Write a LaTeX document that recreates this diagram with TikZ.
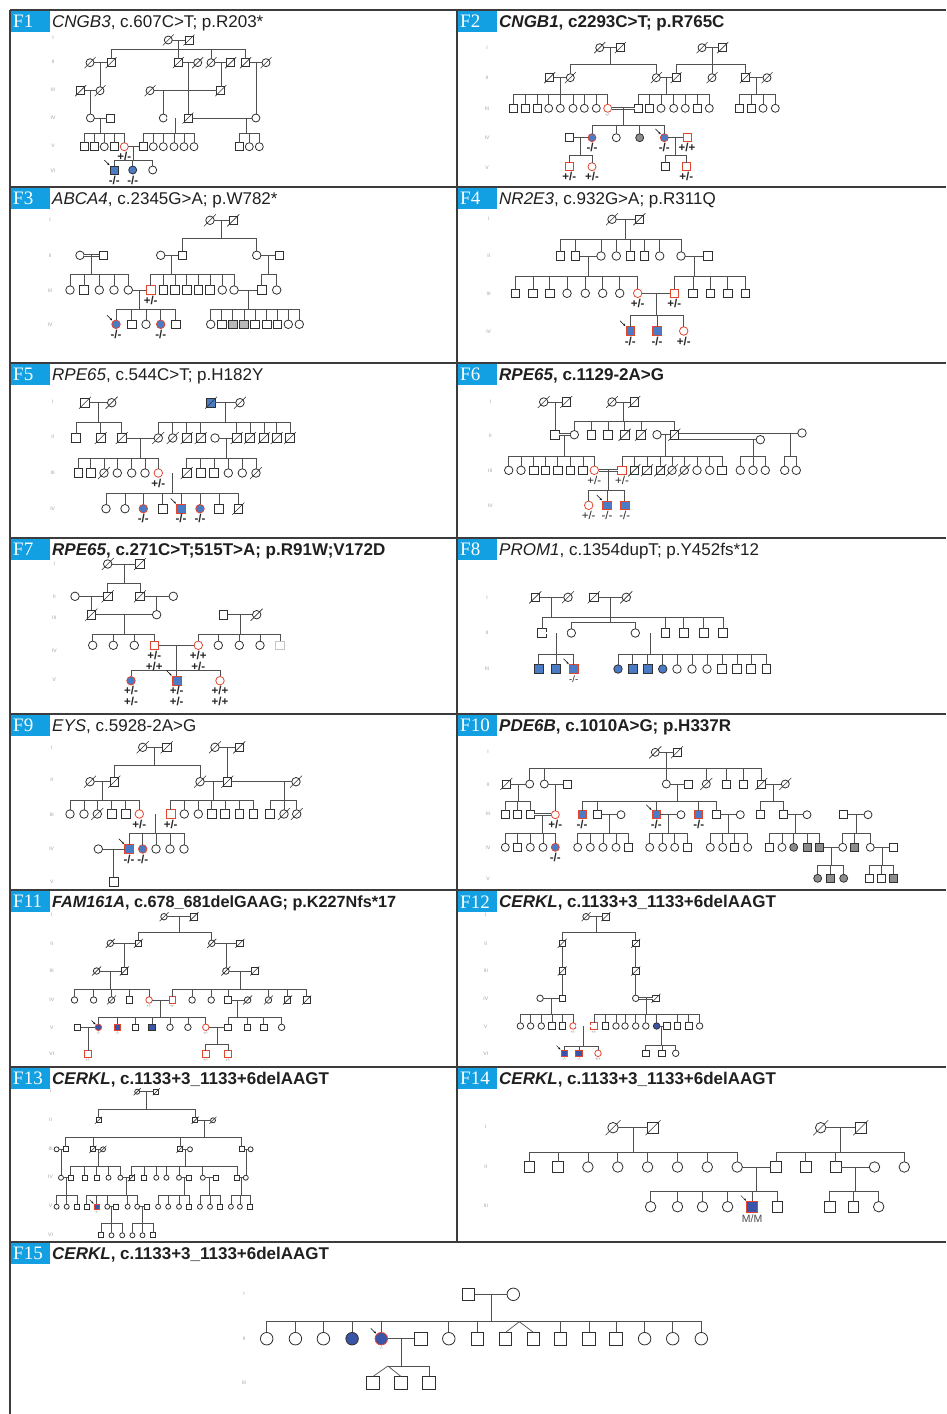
\documentclass[tikz,border=0pt]{standalone}
\usepackage{fontspec}
\setmainfont{Liberation Sans}
\newfontfamily\serifF{Liberation Serif}
\usetikzlibrary{calc,arrows.meta}
\definecolor{lc}{HTML}{505050}
\definecolor{sc}{HTML}{303030}
\definecolor{rc}{HTML}{E2462F}
\definecolor{bl}{HTML}{4A7BC4}
\definecolor{bltwo}{HTML}{3A55A8}
\definecolor{gf}{HTML}{8C8C8C}
\definecolor{gftwo}{HTML}{B8B8B8}
\definecolor{cy}{HTML}{12A0E2}
\definecolor{fr}{HTML}{3C3C3C}
\def\sz{8}\def\dl{5.5}
\tikzset{
 x=1pt,y=-1pt,
 ped/.style={draw=lc,line width=0.7pt},
 dbl/.style={draw=lc,double=white,double distance=1.3pt,line width=0.6pt},
 frame/.style={draw=fr,line width=1.5pt},
 sym/.style={draw=sc,line width=0.8pt,fill=white,inner sep=0pt,outer sep=0pt,minimum size=\sz pt},
 slash/.style={draw=sc,line width=0.6pt},
 dec/.style={append after command={([shift={(-\dl,\dl)}]\tikzlastnode.center) edge[slash] ([shift={(\dl,-\dl)}]\tikzlastnode.center)}},
 M/.style={sym,rectangle}, F/.style={sym,circle},
 MD/.style={M,dec}, FD/.style={F,dec},
 MR/.style={M,draw=rc}, FR/.style={F,draw=rc},
 MA/.style={M,fill=bl}, FA/.style={F,fill=bl},
 MAR/.style={M,fill=bl,draw=rc}, FAR/.style={F,fill=bl,draw=rc},
 MG/.style={M,fill=gf}, FG/.style={F,fill=gf},
 MGL/.style={M,fill=gftwo},
 ML/.style={M,draw=gray!45},
 MAD/.style={M,fill=bl,dec},
 gt/.style={font=\bfseries\fontsize{11.5}{10.5}\selectfont,inner sep=0pt,align=center,text=black!85},
 gtr/.style={font=\fontsize{11.5}{10.5}\selectfont,inner sep=0pt,align=center,text=black!85},
 gts/.style={font=\fontsize{4}{4}\selectfont,inner sep=0pt,text=gray},
 gen/.style={font=\fontsize{5}{5}\selectfont,inner sep=0pt,text=gray!75},
 lbox/.style={anchor=north west,fill=cy,text=white,font=\serifF\fontsize{19}{19}\selectfont,minimum height=21pt,text width=34pt,inner xsep=2.5pt,inner ysep=0pt,align=left},
 ttl/.style={font=\fontsize{17}{17}\selectfont,inner sep=0pt,text=black!88},
 parr/.style={draw=black,line width=0.5pt,-{Stealth[length=2.5pt,width=2pt]}},
}
\newcommand\pRow[2]{\foreach \vn/\vx/\vs in {#2}{\node[\vs] (\vn) at (\vx,#1) {};}}
\newcommand\pJ[3]{\coordinate (#1) at (#2,#3);}
\newcommand\pMt[3]{\draw[ped] (#1) -- (#2); \coordinate (#3) at ($(#1)!0.5!(#2)$);}
\newcommand\pMc[3]{\draw[dbl] (#1) -- (#2); \coordinate (#3) at ($(#1)!0.5!(#2)$);}
\newcommand\pSib[3]{\draw[ped] (#1) -- (#1 |- 0,#2); \foreach \vc in {#3}{\draw[ped] (\vc.north) |- (#1 |- 0,#2);}}
\newcommand\pDn[2]{\draw[ped] (#1) -- (#1 |- #2.north);}
\newcommand\pPb[1]{\draw[parr] ([shift={(-6,-6)}]#1.north west) -- ([shift={(-0.8,-0.8)}]#1.north west);}
\newcommand\pPbs[1]{\draw[parr] ([shift={(-4.5,-4.5)}]#1.north west) -- ([shift={(-0.5,-0.5)}]#1.north west);}
\newcommand\pG[2]{\node[gt,anchor=north] (#1gt) at ([yshift=-1.5pt]#1.south) {#2};}
\newcommand\pGr[2]{\node[gtr,anchor=north] (#1gt) at ([yshift=-1.5pt]#1.south) {#2};}
\newcommand\pGs[2]{\node[gts,anchor=north] (#1gt) at ([yshift=-1pt]#1.south) {#2};}
\newcommand\pTitle[5]{\node[lbox] (#1lb) at (#2+0.5,#3+1) {#4}; \node[ttl,anchor=base west] (#1tt) at (#2+42,#3+17.5) {#5};}
\newcommand\pGens[3]{\foreach \vt/\vy [count=\vk] in {#3}{\node[gen] (#1gen\vk) at (#2,\vy) {\vt};}}
\begin{document}
\begin{tikzpicture}
\useasboundingbox (0,0) rectangle (946,1414);
\fill[white] (0,0) rectangle (946,1414);
% frames
\draw[frame] (10,10) -- (946,10);
\foreach \vy in {187,363,538,714,890,1067,1242} \draw[frame] (10,\vy) -- (946,\vy);
\draw[frame] (10,10) -- (10,1414);
\draw[frame] (457,10) -- (457,1242);

% ================= F1
\def\sz{8}\def\dl{5.5}
\pTitle{a}{10}{10}{F1}{\textit{CNGB3}, c.607C>T; p.R203*}
\pGens{a}{53}{I/38,II/62,III/90,IV/118,V/146,VI/171}
\pRow{40}{a1/168.3/FD, a2/189/MD}
\pRow{62.7}{a3/90/FD, a4/111/MD, a5/178.3/MD, a6/197.7/FD, a7/211/FD, a8/230.7/MD, a9/245.7/MD, a10/266/FD}
\pRow{90.7}{a11/80.7/MD, a12/100/FD, a13/150/FD, a14/220.8/MD}
\pRow{118}{a15/90.4/F, a16/110.7/M, a17/163.3/F, a18/188/MD, a19/255.9/F}
\pRow{146.7}{a20/84/M, a21/94.3/M, a22/104.3/F, a23/114.3/M, a24/124.3/FR, a25/143.3/M, a26/153.3/F, a27/163.3/F, a28/174/F, a29/184/F, a30/194/F, a31/239.3/M, a32/249.3/F, a33/259.3/F}
\pRow{170}{a34/114.3/MA, a35/132.7/FA, a36/152.7/F}
\pMt{a1}{a2}{aj1} \pSib{aj1}{49}{a4,a5,a7,a9}
\pMt{a3}{a4}{aj2} \pDn{aj2}{a12}
\pMt{a5}{a6}{aj3} \pDn{aj3}{a18}
\pMt{a7}{a8}{aj4} \pDn{aj4}{a14}
\pMt{a9}{a10}{aj5} \pDn{aj5}{a19}
\pMt{a11}{a12}{aj6} \pDn{aj6}{a15}
\draw[ped] (a13) -- (a14); \pJ{aj7}{163.3}{90.7} \pDn{aj7}{a17}
\pMt{a15}{a16}{aj8} \pSib{aj8}{133.3}{a20,a21,a22,a23,a24}
\pMc{a17}{a18}{aj9} \pSib{aj9}{133.3}{a25,a26,a27,a28,a29,a30}
\draw[ped] (a18) -- (a19); \pJ{aj10}{246}{118} \pSib{aj10}{133.3}{a31,a32,a33}
\pMt{a24}{a25}{aj11} \pSib{aj11}{160}{a34,a35,a36}
\pG{a24}{+/-} \pG{a34}{-/-} \pG{a35}{-/-} \pPb{a34}

% ================= F2
\pTitle{b}{457}{10}{F2}{\textbf{\textit{CNGB1}, c2293C>T; p.R765C}}
\pGens{b}{487}{I/47.7,II/77.7,III/108.3,IV/137.7,V/167.3}
\pRow{47.7}{b1/599.7/FD, b2/620.3/MD, b3/702/FD, b4/722.7/MD}
\pRow{77.7}{b5/549.7/MD, b6/570.3/FD, b7/656.3/FD, b8/676/MD, b9/712/FD, b10/745.3/MD, b11/767/FD}
\pRow{108.3}{b12/513/M, b13/525.3/M, b14/537/M, b15/548.7/F, b16/560.3/F, b17/573/F, b18/584.3/F, b19/596.3/F, b20/607.7/FR, b21/638.7/M, b22/649.7/M, b23/661/F, b24/673.7/F, b25/685.3/F, b26/697/M, b27/709.3/F, b28/739.7/M, b29/751/M, b30/763/F, b31/775.3/F}
\pRow{137.7}{b32/569.3/M, b33/592/FAR, b34/616.3/F, b35/639.7/FG, b36/664.3/FAR, b37/687/MR}
\pRow{166.7}{b38/569.3/MR, b39/592/FR, b40/665.3/M, b41/686.3/MR}
\pMt{b1}{b2}{bj1} \pSib{bj1}{64.3}{b6,b7}
\pMt{b3}{b4}{bj2} \pSib{bj2}{64.3}{b8,b9,b10}
\pMt{b5}{b6}{bj3} \pSib{bj3}{94.3}{b12,b13,b14,b15,b16,b17,b18,b19,b20}
\pMt{b7}{b8}{bj4} \pSib{bj4}{94.3}{b21,b22,b23,b24,b25,b26,b27}
\pMt{b10}{b11}{bj5} \pSib{bj5}{94.3}{b28,b29,b30,b31}
\pMc{b20}{b21}{bj6} \pSib{bj6}{125}{b33,b34,b35,b36}
\pMt{b32}{b33}{bj7} \pSib{bj7}{155}{b38,b39}
\pMt{b36}{b37}{bj8} \pSib{bj8}{155}{b40,b41}
\pGs{b20}{+/-} \pG{b33}{-/-} \pG{b36}{-/-} \pG{b37}{+/+} \pG{b38}{+/-} \pG{b39}{+/-} \pG{b41}{+/-} \pPb{b36}

% ================= F3
\def\sz{8.5}\def\dl{6}
\pTitle{c}{10}{187}{F3}{\textit{ABCA4}, c.2345G>A; p.W782*}
\pGens{c}{50}{I/219.3,II/256,III/290.3,IV/324.3}
\pRow{220.3}{c1/210/FD, c2/233.3/MD}
\pRow{255.3}{c3/80/F, c4/103.3/M, c5/160.7/F, c6/182.3/M, c7/256.7/F, c8/279.3/M}
\pRow{290}{c9/70/F, c10/84/M, c11/99.3/F, c12/114/F, c13/128.3/F, c14/150.7/MR, c15/163.3/M, c16/175/M, c17/186.7/M, c18/198.3/M, c19/210/M, c20/222.3/F, c21/234/F, c22/261.7/M, c23/276.7/F}
\pRow{324.3}{c24/116/FAR, c25/131.7/M, c26/146/F, c27/160.7/FAR, c28/175.7/M, c29/210.7/F, c30/221.7/M, c31/232.7/MGL, c32/244/MGL, c33/255/M, c34/266.7/M, c35/277.3/M, c36/288.3/F, c37/299.3/F}
\pMt{c1}{c2}{cj1} \pSib{cj1}{238.3}{c6,c7}
\pMc{c3}{c4}{cj2} \pSib{cj2}{274.3}{c9,c10,c11,c12,c13}
\pMt{c5}{c6}{cj3} \pSib{cj3}{274.3}{c14,c15,c16,c17,c18,c19,c20,c21}
\pMt{c7}{c8}{cj4} \pSib{cj4}{274.3}{c22,c23}
\pMt{c13}{c14}{cj5} \pSib{cj5}{309.3}{c24,c25,c26,c27,c28}
\pMt{c21}{c22}{cj6} \pSib{cj6}{309.3}{c29,c30,c31,c32,c33,c34,c35,c36,c37}
\pG{c14}{+/-} \pG{c24}{-/-} \pG{c27}{-/-} \pPb{c24}

% ================= F4
\pTitle{d}{457}{187}{F4}{\textit{NR2E3}, c.932G>A; p.R311Q}
\pGens{d}{488.7}{I/218.3,II/256,III/293.7,IV/331.7}
\pRow{219.3}{d1/612/FD, d2/639.3/MD}
\pRow{256}{d3/560.3/M, d4/575.3/M, d5/601/F, d6/616.3/F, d7/630.3/M, d8/644.3/M, d9/659.7/F, d10/681/F, d11/707.7/M}
\pRow{293.3}{d12/515.3/M, d13/533/M, d14/549.7/M, d15/567/F, d16/585.3/F, d17/602.7/F, d18/619.7/F, d19/637.7/FR, d20/674.3/MR, d21/693/M, d22/710.3/M, d23/727.7/M, d24/745.3/M}
\pRow{331}{d25/630.3/MAR, d26/657/MAR, d27/683.7/FR}
\pMt{d1}{d2}{dj1} \pSib{dj1}{239.3}{d3,d4,d5,d6,d7,d8,d9,d10}
\pMt{d4}{d5}{dj2} \pSib{dj2}{276.7}{d12,d13,d14,d15,d16,d17,d18,d19}
\pMt{d10}{d11}{dj3} \pSib{dj3}{276.7}{d20,d21,d22,d23,d24}
\pMt{d19}{d20}{dj4} \pSib{dj4}{315.3}{d25,d26,d27}
\pG{d19}{+/-} \pG{d20}{+/-} \pG{d25}{-/-} \pG{d26}{-/-} \pG{d27}{+/-} \pPb{d25}

% ================= F5
\pTitle{e}{10}{363}{F5}{\textit{RPE65}, c.544C>T; p.H182Y}
\pGens{e}{52.7}{I/402,II/437,III/473,IV/508.7}
\pRow{402.7}{e1/85/MD, e2/111.7/FD, e3/211/MAD, e4/240/FD}
\pRow{438}{e5/76/M, e6/100.7/MD, e7/121.7/MD, e8/158.3/FD, e9/172.7/FD, e10/186.7/MD, e11/200.7/MD, e12/215/F, e13/236.7/MD, e14/250/MD, e15/264/MD, e16/276.7/MD, e17/290/MD}
\pRow{473}{e18/78.3/M, e19/90.7/M, e20/104/FD, e21/117.3/F, e22/131.7/F, e23/145/F, e24/158.3/FR, e25/186.7/MD, e26/200.7/M, e27/214/M, e28/228.3/F, e29/242.3/F, e30/256/FD}
\pRow{508.7}{e31/106/F, e32/125/F, e33/143.3/FAR, e34/162.7/M, e35/181/MAR, e36/200/FAR, e37/219/M, e38/238.3/MD}
\pMt{e1}{e2}{ej1} \pSib{ej1}{422}{e5,e6,e7}
\pMt{e3}{e4}{ej2} \pSib{ej2}{422}{e8,e9,e10,e11,e13,e14,e15,e16,e17}
\pMt{e7}{e8}{ej3} \pSib{ej3}{458}{e18,e19,e20,e21,e22,e23,e24}
\pMt{e12}{e13}{ej4} \pSib{ej4}{458}{e25,e26,e27,e28,e29,e30}
\pMc{e24}{e25}{ej5} \pSib{ej5}{493.7}{e31,e32,e33,e34,e35,e36,e37,e38}
\pG{e24}{+/-} \pG{e33}{-/-} \pG{e35}{-/-} \pG{e36}{-/-} \pPb{e35}

% ================= F6
\pTitle{f}{457}{363}{F6}{\textbf{\textit{RPE65}, c.1129-2A>G}}
\pGens{f}{490.3}{I/401.3,II/435.3,III/470.3,IV/506}
\pRow{402}{f1/543.7/FD, f2/566.3/MD, f3/612/FD, f4/634.3/MD}
\pRow{434.7}{f5/555/M, f6/574.3/F, f7/591.3/M, f8/608/M, f9/624.7/MD, f10/641/MD, f11/657/F, f12/674.3/MD}
\node[F] (f13) at (760.3,439.7) {};
\node[F] (f14) at (802,433) {};
\pRow{470.3}{f15/508.7/F, f16/521/F, f17/533.7/M, f18/545.3/M, f19/557.7/M, f20/570.3/M, f21/583/M, f22/594.3/FR, f23/622/MR, f24/634.3/MD, f25/647/MD, f26/660.3/MD, f27/672/FD, f28/684.3/FD, f29/697/F, f30/709.7/F, f31/722/M, f32/740.3/F, f33/753/F, f34/765.3/F, f35/784.7/F, f36/796.3/F}
\pRow{505.3}{f37/588.7/FR, f38/607/MAR, f39/624.7/MAR}
\pMt{f1}{f2}{fj1} \pDn{fj1}{f5}
\pMt{f3}{f4}{fj2} \pSib{fj2}{421.3}{f6,f7,f8,f9,f10,f12}
\pMc{f5}{f6}{fj3} \pSib{fj3}{456}{f15,f16,f17,f18,f19,f20,f21,f22}
\pMt{f11}{f12}{fj4} \pSib{fj4}{456}{f23,f24,f25,f26,f27,f28,f29,f30,f31}
\draw[ped] (f12.east |- f13) -- (f13); \pJ{fj5}{753}{439.7} \pSib{fj5}{456}{f32,f33,f34}
\draw[ped] (f12.east |- f14) -- (f14); \pJ{fj6}{790.3}{433} \pSib{fj6}{456}{f35,f36}
\pMc{f22}{f23}{fj7} \pSib{fj7}{490.3}{f37,f38,f39}
\pGr{f22}{+/-} \pGr{f23}{+/-} \pGr{f37}{+/-} \pGr{f38}{-/-} \pGr{f39}{-/-} \pPb{f38}

% ================= F7
\def\sz{8.5}
\pTitle{g}{10}{538}{F7}{\textbf{\textit{RPE65}, c.271C>T;515T>A; p.R91W;V172D}}
\pGens{g}{54.3}{I/564,II/596.3,III/618,IV/650.7,V/679.7}
\pRow{564}{g1/107.7/FD, g2/140/MD}
\pRow{596.3}{g3/75/F, g4/107.7/MD, g5/140/MD, g6/173.3/F}
\pRow{614.7}{g7/91.35/MD, g8/156.65/F, g9/223.3/M, g10/256.7/FD}
\pRow{645.3}{g11/92.7/F, g12/113.3/F, g13/134.3/F, g14/154.3/MR, g15/198.3/FR, g16/218.3/F, g17/239.3/F, g18/260/F, g19/280/ML}
\pRow{680.7}{g20/131/FAR, g21/176.7/MAR, g22/220/FR}
\pMt{g1}{g2}{gj1} \pSib{gj1}{583}{g4,g5}
\pMt{g3}{g4}{gj2} \pDn{gj2}{g7}
\pMt{g5}{g6}{gj3} \pDn{gj3}{g8}
\pMt{g7}{g8}{gj4} \pSib{gj4}{634.7}{g11,g12,g13,g14}
\pMt{g9}{g10}{gj5} \pSib{gj5}{634.7}{g15,g16,g17,g18,g19}
\pMt{g14}{g15}{gj6} \pSib{gj6}{670.7}{g20,g21,g22}
\pG{g14}{+/-\\+/+} \pG{g15}{+/+\\+/-} \pG{g20}{+/-\\+/-} \pG{g21}{+/-\\+/-} \pG{g22}{+/+\\+/+} \pPb{g21}

% ================= F8
\pTitle{h}{457}{538}{F8}{\textit{PROM1}, c.1354dupT; p.Y452fs*12}
\pGens{h}{487}{I/597.3,II/632.3,III/669}
\pRow{597.3}{h1/535.3/MD, h2/568/FD, h3/593.7/MD, h4/626.3/FD}
\pRow{633}{h5/542/M, h6/571.3/F, h7/635.3/F, h8/665.3/M, h9/683.7/M, h10/703.7/M, h11/723/M}
\pRow{669}{h12/538.7/MA, h13/556/MA, h14/573.7/MAR, h15/618/FA, h16/632.7/MA, h17/647.7/MA, h18/662.7/FA, h19/677/F, h20/692/F, h21/707/F, h22/722/M, h23/737/M, h24/751/M, h25/766.3/M}
\pMt{h1}{h2}{hj1} \pSib{hj1}{617}{h5,h8,h9,h10,h11}
\pMt{h3}{h4}{hj2} \pSib{hj2}{622.3}{h6,h7}
\pMc{h5}{h6}{hj3} \pSib{hj3}{654}{h12,h13,h14}
\pMc{h7}{h8}{hj4} \pSib{hj4}{654}{h15,h16,h17,h18,h19,h20,h21,h22,h23,h24,h25}
\node[gtr,font=\fontsize{9.5}{9.5}\selectfont,anchor=north] (h14gt) at ([yshift=-2pt]h14.south) {-/-}; \pPb{h14}

% ================= F9
\pTitle{i}{10}{714}{F9}{\textit{EYS}, c.5928-2A>G}
\pGens{i}{51.7}{I/747.3,II/780,III/814.7,IV/849,V/881.3}
\pRow{747.3}{i1/142.7/FD, i2/166.7/MD, i3/215/FD, i4/239.3/MD}
\pRow{781.7}{i5/90/FD, i6/114.3/MD, i7/200/FD, i8/227.3/MD, i9/296/FD}
\pRow{814}{i10/70/F, i11/84/F, i12/97.3/FD, i13/111.7/M, i14/125.7/M, i15/139.3/FR, i16/170.7/MR, i17/184.3/F, i18/198.3/F, i19/211.7/M, i20/225/M, i21/239.3/M, i22/253.3/M, i23/270/M, i24/284/FD, i25/296.7/FD}
\pRow{849}{i26/98.3/F, i27/129/MAR, i28/142.7/FAR, i29/156/F, i30/170/F, i31/184/F}
\pRow{881.7}{i32/113.65/M}
\pMt{i1}{i2}{ij1} \pSib{ij1}{765.7}{i6,i7}
\pMt{i3}{i4}{ij2} \pDn{ij2}{i8}
\pMt{i5}{i6}{ij3} \pSib{ij3}{800}{i10,i11,i12,i13,i14,i15}
\pMt{i7}{i8}{ij4} \pSib{ij4}{800}{i16,i17,i18,i19,i20,i21,i22}
\draw[ped] (i8) -- (i9); \pJ{ij5}{284}{781.7} \pSib{ij5}{800}{i23,i24,i25}
\pMc{i15}{i16}{ij6} \pSib{ij6}{833}{i27,i28,i29,i30,i31}
\pMt{i26}{i27}{ij7} \pDn{ij7}{i32}
\pG{i15}{+/-} \pG{i16}{+/-} \pG{i27}{-/-} \pG{i28}{-/-} \pPb{i27}

% ================= F10
\def\sz{8}
\pTitle{k}{457}{714}{F10}{\textbf{\textit{PDE6B}, c.1010A>G; p.H337R}}
\pGens{k}{488}{I/751.3,II/784.7,III/814,IV/847.3,V/878.3}
\pRow{752.3}{k1/655.3/FD, k2/677/MD}
\pRow{784}{k3/506.3/MD, k4/529.7/F, k5/544.3/F, k6/567/M, k7/666.3/F, k8/688.7/M, k9/706.3/FD, k10/726.3/M, k11/743/M, k12/761.3/MD, k13/785.3/FD}
\pRow{814.7}{k14/505.3/M, k15/517.7/M, k16/530.3/M, k17/555.3/FR, k18/582/MAR, k19/597/M, k20/621/F, k21/656.3/MAR, k22/681/F, k23/698.7/MAR, k24/716.3/M, k25/740.3/F, k26/760.3/M, k27/783/M, k28/807/F, k29/843.7/M, k30/868/F}
\pRow{847.3}{k31/505.3/F, k32/517.7/M, k33/530.3/F, k34/543/F, k35/555.3/FAR, k36/577.7/F, k37/590.3/F, k38/603/F, k39/616/F, k40/628.7/M, k41/649.7/F, k42/662.7/F, k43/674.7/F, k44/687/M, k45/710.3/F, k46/722.7/F, k47/734.7/M, k48/747.7/F, k49/769.3/M, k50/782/F, k51/793.7/FG, k52/807/MG, k53/819.7/MG, k54/842.7/F, k55/854.3/MG, k56/870.3/F, k57/893.7/M}
\pRow{878.3}{k58/817.7/FG, k59/830.3/MG, k60/843.7/FG, k61/869.3/M, k62/881/M, k63/893.7/MG}
\pMt{k1}{k2}{kj1} \pSib{kj1}{768.3}{k4,k5,k7,k9,k10,k11,k12}
\pMt{k3}{k4}{kj2} \pSib{kj2}{801.3}{k14,k15,k16}
\pMt{k5}{k6}{kj3} \pDn{kj3}{k17}
\pMc{k16}{k17}{kj4} \pSib{kj4}{833}{k31,k32,k33,k34,k35}
\pMt{k7}{k8}{kj5} \pSib{kj5}{801.3}{k18,k19,k21,k23,k24}
\pMt{k19}{k20}{kj6} \pSib{kj6}{833}{k36,k37,k38,k39,k40}
\pMt{k21}{k22}{kj7} \pSib{kj7}{833}{k41,k42,k43,k44}
\pMt{k24}{k25}{kj8} \pSib{kj8}{833}{k45,k46,k47,k48}
\pMt{k12}{k13}{kj9} \pSib{kj9}{801.3}{k26,k27}
\pMt{k27}{k28}{kj10} \pSib{kj10}{833}{k49,k50,k51,k52,k53}
\pMt{k29}{k30}{kj11} \pSib{kj11}{833}{k54,k55,k56}
\pMt{k53}{k54}{kj12} \pSib{kj12}{865.7}{k58,k59,k60}
\pMt{k56}{k57}{kj13} \pSib{kj13}{865.7}{k61,k62,k63}
\pG{k17}{+/-} \pG{k18}{-/-} \pG{k21}{-/-} \pG{k23}{-/-} \pG{k35}{-/-} \pPb{k21}

\begin{scope}
\colorlet{bl}{bltwo}
% ================= F11
\def\sz{6.5}\def\dl{4.5}
\pTitle{m}{10}{890}{F11}{\fontsize{16.2}{16}\selectfont\textbf{\textit{FAM161A}, c.678\_681delGAAG; p.K227Nfs*17}}
\pGens{m}{51.8}{I/915,II/943.3,III/971,IV/1000,V/1027.3,VI/1054}
\pRow{916.7}{m1/164/FD, m2/193.9/MD}
\pRow{943.3}{m3/110.3/FD, m4/138.4/MD, m5/211.8/FD, m6/239.9/MD}
\pRow{971}{m7/96.6/FD, m8/124.4/MD, m9/225.9/FD, m10/254.8/MD}
\pRow{1000}{m11/74.5/F, m12/93.6/F, m13/111.5/FD, m14/129.4/M, m15/149.1/FR, m16/172.4/MR, m17/192.1/F, m18/211.2/F, m19/227.9/M, m20/247.6/FD, m21/268.5/FD, m22/287.6/MD, m23/306.7/MD}
\pRow{1027.3}{m24/77.5/M, m25/98.4/FAR, m26/117.5/MAR, m27/135.4/M, m28/152.1/MA, m29/170/F, m30/187.9/F, m31/205.8/FR, m32/227.9/M, m33/247.6/M, m34/263.7/M, m35/281.6/F}
\pRow{1054}{m36/88/MR, m37/205.8/MR, m38/227.9/MR}
\pMt{m1}{m2}{mj1} \pSib{mj1}{932.7}{m4,m5}
\pMt{m3}{m4}{mj2} \pDn{mj2}{m8}
\pMt{m5}{m6}{mj3} \pDn{mj3}{m9}
\pMt{m7}{m8}{mj4} \pSib{mj4}{989.3}{m11,m12,m13,m14,m15}
\pMt{m9}{m10}{mj5} \pSib{mj5}{989.3}{m16,m17,m18,m19,m21,m22,m23}
\pMt{m15}{m16}{mj6} \pSib{mj6}{1017.3}{m25,m26,m27,m28,m29,m30,m31}
\pMt{m19}{m20}{mj7} \pSib{mj7}{1017.3}{m32,m33,m34,m35}
\pMt{m24}{m25}{mj8} \pDn{mj8}{m36}
\pMt{m31}{m32}{mj9} \pSib{mj9}{1044}{m37,m38}
\pGs{m15}{+/-} \pGs{m16}{+/-} \pGs{m25}{-/-} \pGs{m26}{-/-} \pGs{m31}{+/-} \pGs{m36}{+/-} \pGs{m37}{+/-} \pGs{m38}{+/-} \pPbs{m25}

% ================= F12
\pTitle{n}{457}{890}{F12}{\textbf{\textit{CERKL}, c.1133+3\_1133+6delAAGT}}
\pGens{n}{485.8}{I/915,II/943.3,III/971,IV/998.3,V/1026.7,VI/1053.3}
\pRow{916.7}{n1/586.1/FD, n2/605.8/MD}
\pRow{943.3}{n3/562.2/MD, n4/635.7/MD}
\pRow{971}{n5/562.2/MD, n6/635.7/MD}
\pRow{998.3}{n7/540.1/F, n8/562.2/M, n9/635.7/F, n10/656/MD}
\pRow{1026}{n11/520.4/F, n12/530.6/F, n13/541.3/F, n14/552.1/M, n15/562.2/M, n16/573/FR, n17/593.9/MR, n18/605.2/M, n19/616/F, n20/625/F, n21/635.7/F, n22/645.8/F, n23/656.6/FA, n24/666.7/M, n25/677.5/M, n26/688.8/M, n27/699.6/F}
\pRow{1053.3}{n28/564.2/MAR, n29/579.1/MAR, n30/598/FR, n31/645.8/M, n32/662/M, n33/675.7/F}
\pMt{n1}{n2}{nj1} \pSib{nj1}{932.7}{n3,n4}
\draw[ped] (n3) -- (n5); \draw[ped] (n4) -- (n6);
\draw[ped] (n5) -- (n8); \draw[ped] (n6) -- (n9);
\pMt{n7}{n8}{nj2} \pSib{nj2}{1014}{n11,n12,n13,n14,n15,n16}
\pMc{n9}{n10}{nj3} \pSib{nj3}{1014}{n17,n18,n19,n20,n21,n22,n23,n25,n26,n27}
\pMc{n16}{n17}{nj4} \pSib{nj4}{1046.7}{n28,n29,n30}
\pMt{n23}{n24}{nj5} \pSib{nj5}{1045}{n31,n32,n33}
\pGs{n16}{+/-} \pGs{n17}{+/-} \pGs{n28}{-/-} \pGs{n29}{-/-} \pGs{n30}{+/+} \pPbs{n28}

% ================= F13
\def\sz{5}\def\dl{3.5}
\pTitle{o}{10}{1067}{F13}{\textbf{\textit{CERKL}, c.1133+3\_1133+6delAAGT}}
\pGens{o}{50.6}{I/1091,II/1119.3,III/1148.7,IV/1177,V/1206,VI/1234.3}
\pRow{1091.7}{o1/137.2/FD, o2/156.3/MD}
\pRow{1120.3}{o3/98.4/MD, o4/195.1/MD, o5/213/FD}
\pRow{1149.3}{o6/56.6/F, o7/65.5/M, o8/93/MD, o9/103/FD, o10/180/MD, o11/190/F, o12/241.6/M, o13/250.6/F}
\pRow{1177.7}{o14/61/F, o15/70.7/M, o16/84.6/M, o17/96.6/M, o18/108.5/F, o19/120.4/F, o20/131.4/MD, o21/144.3/M, o22/156.3/F, o23/166.4/F, o24/179/F, o25/189.1/M, o26/202.8/F, o27/216/M, o28/236.9/M, o29/245.8/F}
\pRow{1206.7}{o30/56.6/F, o31/66.7/F, o32/76.9/M, o33/86.4/M, o34/96.6/MAR, o35/107.3/F, o36/115.7/M, o37/127.6/F, o38/137.2/F, o39/147.3/M, o40/158.1/F, o41/168.2/F, o42/179/F, o43/189.1/M, o44/199.9/F, o45/210/F, o46/220.1/M, o47/230.9/F, o48/239.9/F, o49/250/M}
\pRow{1235.3}{o50/101.3/M, o51/111.5/F, o52/122.2/F, o53/132.4/F, o54/142.5/F, o55/153.3/M}
\pMt{o1}{o2}{oj1} \pSib{oj1}{1109.3}{o3,o4}
\pMt{o4}{o5}{oj2} \pSib{oj2}{1137.7}{o7,o8,o10,o12}
\pMt{o6}{o7}{oj3} \pDn{oj3}{o14}
\pMt{o8}{o9}{oj4} \pSib{oj4}{1166}{o15,o16,o17,o18,o19}
\pMt{o10}{o11}{oj5} \pSib{oj5}{1166}{o20,o21,o22,o23,o24,o26,o28}
\pMt{o12}{o13}{oj6} \pDn{oj6}{o29}
\pMt{o14}{o15}{oj7} \pSib{oj7}{1195.3}{o30,o31,o32}
\pMt{o19}{o20}{oj8} \pSib{oj8}{1195.3}{o33,o34,o35,o37,o38}
\pMt{o24}{o25}{oj9} \pSib{oj9}{1195.3}{o40,o41,o42,o43}
\pMt{o26}{o27}{oj10} \pSib{oj10}{1195.3}{o44,o45,o46}
\pMt{o28}{o29}{oj11} \pSib{oj11}{1195.3}{o47,o48,o49}
\pMt{o35}{o36}{oj12} \pSib{oj12}{1223.7}{o50,o51,o52}
\pMt{o38}{o39}{oj13} \pSib{oj13}{1223.7}{o53,o54,o55}
\pGs{o34}{-/-} \pPbs{o34}

% ================= F14
\def\sz{10.5}\def\dl{7.5}
\pTitle{p}{457}{1067}{F14}{\textbf{\textit{CERKL}, c.1133+3\_1133+6delAAGT}}
\pGens{p}{485.8}{I/1127,II/1167,III/1206}
\pRow{1127.7}{p1/613/FD, p2/653/MD, p3/820.7/FD, p4/860.7/MD}
\pRow{1167}{p5/529.4/M, p6/558/M, p7/587.9/F, p8/617.8/F, p9/647.6/F, p10/677.5/F, p11/707.3/F, p12/737.2/F, p13/776/M, p14/805.8/M, p15/835.7/M, p16/874.5/F, p17/904.3/F}
\pRow{1206.7}{p18/650.6/F, p19/677.5/F, p20/702.5/F, p21/727.6/F, p22/752.1/MAR, p23/777.2/M, p24/829.7/M, p25/853.6/M, p26/878.7/F}
\pMt{p1}{p2}{pj1} \pSib{pj1}{1152.7}{p5,p6,p7,p8,p9,p10,p11,p12}
\pMt{p3}{p4}{pj2} \pSib{pj2}{1152.7}{p13,p14,p15,p17}
\pMt{p12}{p13}{pj3} \pSib{pj3}{1191.7}{p18,p19,p20,p21,p22,p23}
\pMt{p15}{p16}{pj4} \pSib{pj4}{1191.7}{p24,p25,p26}
\node[font=\fontsize{10.5}{10.5}\selectfont,text=black!70,anchor=north,inner sep=0pt] (p22gt) at ([yshift=-2.5pt]p22.south) {M/M};
\pPb{p22}

% ================= F15
\def\sz{12.5}\def\dl{8}
\pTitle{q}{10}{1242}{F15}{\textbf{\textit{CERKL}, c.1133+3\_1133+6delAAGT}}
\pGens{q}{244}{I/1293.7,II/1338.7,III/1382.7}
\pRow{1294.3}{q1/468.5/M, q2/513.3/F}
\pRow{1338.7}{q3/266.7/F, q4/295.4/F, q5/323.4/F, q6/352.1/FA, q7/381.3/FAR, q8/420.7/M, q9/448.8/F, q10/477.5/M, q11/505.5/M, q12/533.6/M, q13/560.4/M, q14/589.1/M, q15/616/M, q16/644.6/F, q17/672.7/F, q18/701.3/F}
\pRow{1382.7}{q19/373/M, q20/401/M, q21/429.1/M}
\pMt{q1}{q2}{qj1} \pSib{qj1}{1321.7}{q3,q4,q5,q6,q7,q9,q10,q13,q14,q15,q16,q17,q18}
\pJ{qt1}{519.3}{1321.7} \draw[ped] (qt1) -- (q11.north); \draw[ped] (qt1) -- (q12.north);
\pMt{q7}{q8}{qj2} \pSib{qj2}{1366}{q21}
\pJ{qt2}{387.9}{1366} \draw[ped] (qt2) -- (qj2 |- qt2); \draw[ped] (qt2) -- (q19.north); \draw[ped] (qt2) -- (q20.north);
\pGs{q7}{-/-} \pPb{q7}
\end{scope}
\end{tikzpicture}
\end{document}
